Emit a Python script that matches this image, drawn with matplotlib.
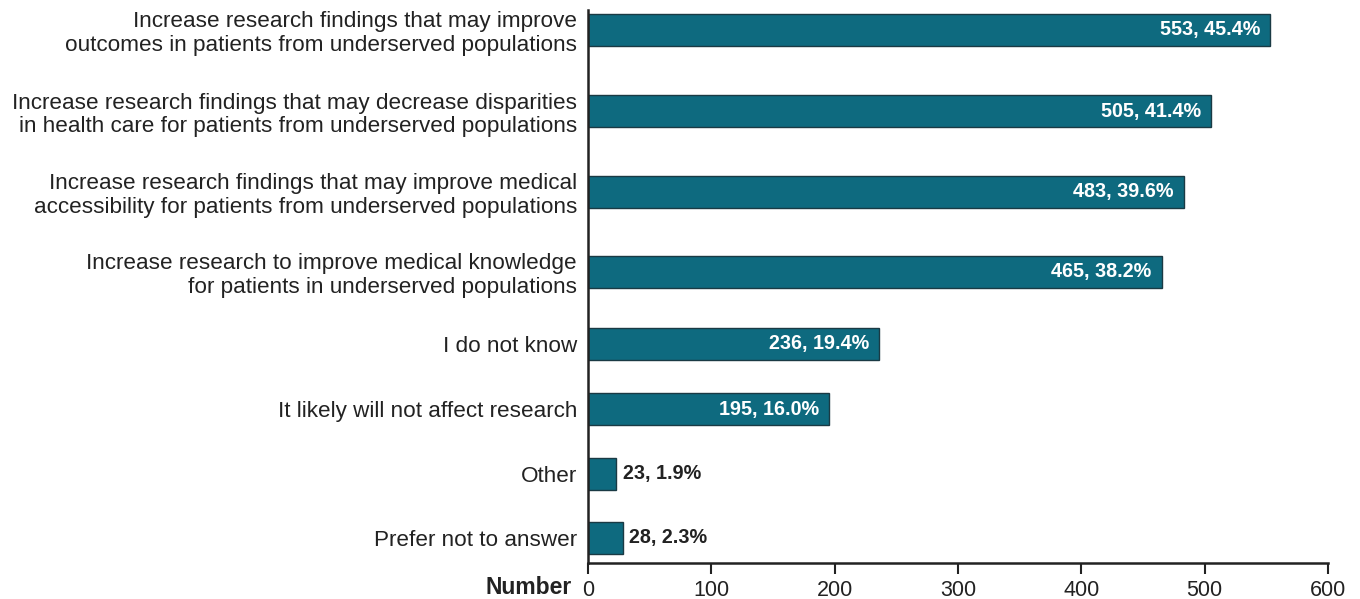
import matplotlib
matplotlib.use("Agg")
import matplotlib.pyplot as plt

categories = [
    "Increase research findings that may improve\noutcomes in patients from underserved populations",
    "Increase research findings that may decrease disparities\nin health care for patients from underserved populations",
    "Increase research findings that may improve medical\naccessibility for patients from underserved populations",
    "Increase research to improve medical knowledge\nfor patients in underserved populations",
    "I do not know",
    "It likely will not affect research",
    "Other",
    "Prefer not to answer",
]
counts = [553, 505, 483, 465, 236, 195, 23, 28]
percents = [45.4, 41.4, 39.6, 38.2, 19.4, 16.0, 1.9, 2.3]
xticks = [0, 100, 200, 300, 400, 500, 600]

# layout: vertical slot positions (top to bottom)
positions = [30, 111, 192, 272, 344, 409, 474, 538]

plt.rcParams['font.family'] = ['Liberation Sans', 'DejaVu Sans']
fig = plt.figure(figsize=(13.6, 5.99), dpi=100)
ax = fig.add_axes([588/1360, 1-563/599, 740/1360, (563-10)/599])

color = '#0e6a7f'
ax.barh(positions, counts, height=32, color=color, edgecolor='#1a3a44', linewidth=1.0)
ax.set_ylim(563, 10)
ax.set_xlim(0, 600)
ax.set_yticks(positions)
ax.set_yticklabels(categories, fontsize=16.2, color='#222222', linespacing=1.14)
ax.tick_params(axis='y', length=0, pad=8)
ax.set_xticks(xticks)
ax.set_xticklabels([str(t) for t in xticks], fontsize=15.5, color='#222222')
ax.tick_params(axis='x', length=8, width=1.5, direction='out', pad=4, color='#222222')
for s in ['top', 'right']:
    ax.spines[s].set_visible(False)
for s in ['left', 'bottom']:
    ax.spines[s].set_linewidth(1.8)
    ax.spines[s].set_color('#222222')

for y, c, p in zip(positions, counts, percents):
    label = f"{c}, {p:.1f}%"
    if c > 100:
        ax.text(c - 8, y, label, ha='right', va='center', color='white',
                fontsize=14.2, fontweight='bold')
    else:
        ax.text(c + 5, y, label, ha='left', va='center', color='#222222',
                fontsize=14.2, fontweight='bold')

fig.text(572/1360, 1-588/599, "Number", ha='right', va='center',
         fontsize=16.5, fontweight='bold', color='#222222')

fig.savefig("out.png", dpi=100)
